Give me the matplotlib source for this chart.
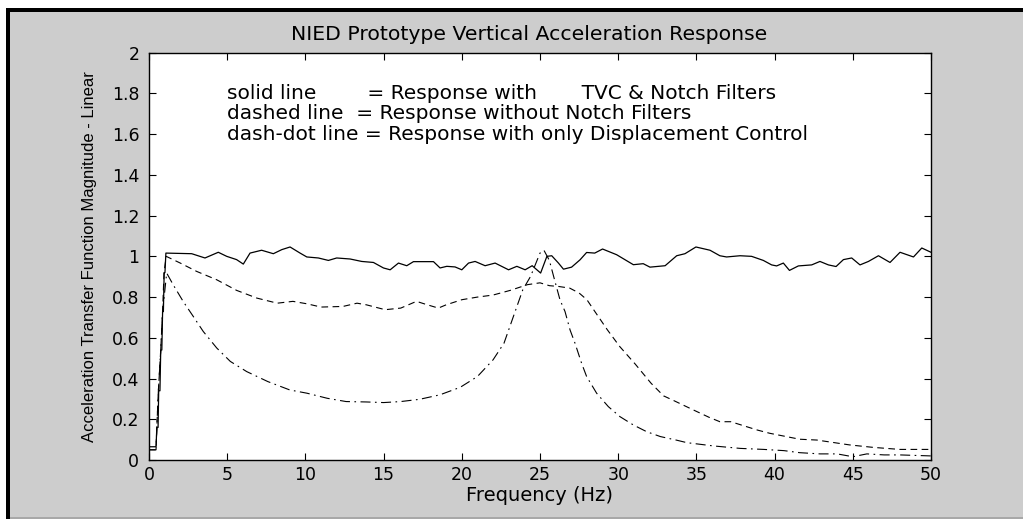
import matplotlib
matplotlib.use('Agg')
import matplotlib.pyplot as plt
from matplotlib.patches import Rectangle

# solid line - response with TVC & notch filters
solid_freq = [0, 0.45, 0.5, 0.58, 0.62, 0.7, 0.75, 0.82, 0.87, 0.92, 0.97, 1.02, 1.08, 2.73, 3.58,
              4.43, 4.97, 5.6, 6.03, 6.46, 7.2, 7.95, 8.49, 9.02, 9.66, 10.09, 10.83, 11.47, 12.0,
              12.86, 13.6, 14.35, 14.99, 15.42, 15.95, 16.48, 16.91, 18.19, 18.61, 19.04, 19.57,
              20.0, 20.43, 20.85, 21.49, 22.13, 22.99, 23.52, 24.05, 24.5, 25.04, 25.44, 25.75,
              26.18, 26.5, 27.02, 27.56, 27.98, 28.5, 29.0, 29.9, 30.97, 31.6, 32.03, 33.0, 33.74,
              34.27, 34.97, 35.87, 36.5, 36.93, 37.79, 38.53, 39.28, 39.81, 40.13, 40.56, 40.95,
              41.52, 42.37, 42.9, 43.44, 43.93, 44.4, 44.93, 45.46, 46.0, 46.64, 47.38, 48.02,
              48.88, 49.41, 50.0]
solid_mag = [0.065, 0.065, 0.16, 0.16, 0.34, 0.34, 0.54, 0.54, 0.73, 0.73, 0.92, 0.92, 1.016, 1.013,
             0.992, 1.02, 1.0, 0.984, 0.962, 1.016, 1.03, 1.013, 1.033, 1.046, 1.016, 0.997, 0.992,
             0.98, 0.992, 0.987, 0.975, 0.97, 0.943, 0.934, 0.967, 0.954, 0.974, 0.974, 0.943,
             0.951, 0.948, 0.934, 0.967, 0.975, 0.954, 0.967, 0.934, 0.951, 0.934, 0.954, 0.918,
             1.0, 1.003, 0.967, 0.937, 0.947, 0.983, 1.019, 1.016, 1.036, 1.008, 0.959, 0.964,
             0.947, 0.954, 1.003, 1.013, 1.046, 1.03, 1.003, 0.997, 1.003, 1.0, 0.98, 0.958, 0.953,
             0.967, 0.931, 0.953, 0.958, 0.975, 0.958, 0.95, 0.984, 0.992, 0.958, 0.975, 1.003,
             0.97, 1.02, 0.997, 1.041, 1.02]

# dashed line - response without notch filters
dashed_freq = [0, 0.45, 0.5, 0.6, 0.75, 0.87, 0.96, 1.1, 2.0, 3.05, 4.33, 5.6, 6.9, 8.2, 9.2, 10.1,
               11.0, 12.4, 13.3, 13.9, 15.1, 16.1, 17.1, 17.8, 18.5, 19.0, 20.0, 21.0, 22.0, 23.1,
               24.2, 25.0, 25.6, 26.2, 26.9, 27.5, 28.0, 28.5, 29.3, 30.1, 31.1, 32.1, 32.9, 33.6,
               34.8, 35.8, 36.5, 37.2, 38.9, 39.7, 41.6, 42.7, 44.8, 46.3, 48.0, 50.0]
dashed_mag = [0.05, 0.05, 0.16, 0.34, 0.54, 0.73, 0.92, 1.0, 0.967, 0.926, 0.885, 0.833, 0.795, 0.77,
              0.779, 0.767, 0.751, 0.754, 0.77, 0.762, 0.738, 0.746, 0.779, 0.762, 0.746, 0.762,
              0.787, 0.8, 0.81, 0.833, 0.861, 0.87, 0.856, 0.852, 0.844, 0.82, 0.787, 0.73, 0.64,
              0.557, 0.47, 0.377, 0.315, 0.29, 0.246, 0.21, 0.188, 0.188, 0.147, 0.131, 0.102,
              0.098, 0.074, 0.062, 0.052, 0.052]

# dash-dot line - response with only displacement control
dashdot_freq = [0, 0.45, 0.5, 0.6, 0.75, 0.87, 1.13, 1.55, 2.19, 2.83, 3.47, 4.33, 5.2, 6.25, 7.6,
                9.0, 10.1, 11.4, 12.6, 13.9, 15.0, 16.1, 17.3, 18.6, 19.9, 21.0, 22.0, 22.7, 23.3,
                23.9, 24.4, 25.0, 25.25, 25.6, 25.96, 26.28, 26.6, 26.92, 27.24, 27.66, 27.98,
                28.62, 29.37, 30.11, 30.97, 31.82, 32.7, 33.7, 34.4, 36.1, 37.8, 39.3, 40.6, 41.6,
                42.9, 44.0, 45.0, 45.9, 47.0, 48.0, 50.0]
dashdot_mag = [0.05, 0.05, 0.16, 0.34, 0.54, 0.73, 0.918, 0.86, 0.778, 0.705, 0.631, 0.55, 0.484,
               0.434, 0.385, 0.344, 0.328, 0.303, 0.287, 0.285, 0.282, 0.287, 0.298, 0.32, 0.357,
               0.41, 0.492, 0.574, 0.705, 0.836, 0.902, 1.016, 1.03, 0.98, 0.876, 0.786, 0.729,
               0.639, 0.573, 0.475, 0.41, 0.328, 0.262, 0.213, 0.172, 0.139, 0.115, 0.098, 0.085,
               0.069, 0.057, 0.052, 0.046, 0.036, 0.03, 0.03, 0.016, 0.03, 0.025, 0.025, 0.02]

xticks = [0, 5, 10, 15, 20, 25, 30, 35, 40, 45, 50]
yticks = [0, 0.2, 0.4, 0.6, 0.8, 1.0, 1.2, 1.4, 1.6, 1.8, 2.0]
ytick_labels = ['0', '0.2', '0.4', '0.6', '0.8', '1', '1.2', '1.4', '1.6', '1.8', '2']

notes = ['solid line        = Response with       TVC & Notch Filters',
         'dashed line  = Response without Notch Filters',
         'dash-dot line = Response with only Displacement Control']

W, H = 1023, 519
fig = plt.figure(figsize=(W / 100, H / 100), dpi=100, facecolor='#cdcdcd')

# screenshot frame: white margin + black line at top and left, darker line at bottom
fig.add_artist(Rectangle((0, 1 - 8 / H), 1, 8 / H, transform=fig.transFigure, color='white', lw=0))
fig.add_artist(Rectangle((0, 1 - 12 / H), 1, 4 / H, transform=fig.transFigure, color='black', lw=0))
fig.add_artist(Rectangle((0, 0), 6 / W, 1, transform=fig.transFigure, color='white', lw=0))
fig.add_artist(Rectangle((6 / W, 0), 4 / W, 1 - 8 / H, transform=fig.transFigure, color='black', lw=0))
fig.add_artist(Rectangle((10 / W, 0), 1, 2 / H, transform=fig.transFigure, color='#a8a8a8', lw=0))

ax = fig.add_axes([149 / W, 59 / H, 782 / W, 407.3 / H])
ax.set_facecolor('white')

ax.plot(solid_freq, solid_mag, color='black', lw=0.9)
ax.plot(dashed_freq, dashed_mag, color='black', lw=0.8, linestyle=(0, (6, 4)))
ax.plot(dashdot_freq, dashdot_mag, color='black', lw=0.8, linestyle=(0, (9, 4, 1.5, 4)))

ax.set_xlim(0, 50)
ax.set_ylim(0, 2)
ax.set_xticks(xticks)
ax.set_yticks(yticks)
ax.set_yticklabels(ytick_labels)
ax.tick_params(direction='in', top=True, right=True, length=5, width=0.8, labelsize=12.5)
ax.tick_params(axis='x', pad=4)
ax.tick_params(axis='y', pad=7)
for s in ax.spines.values():
    s.set_linewidth(1.0)

for i, t in enumerate(notes):
    ax.text(5, 1.8 - 0.1 * i, t, fontsize=14.5, va='center', ha='left')

ax.set_title('NIED Prototype Vertical Acceleration Response', fontsize=14.7, pad=9, x=0.486)
ax.set_xlabel('Frequency (Hz)', fontsize=14, labelpad=2)
ax.set_ylabel('Acceleration Transfer Function Magnitude - Linear',
              fontsize=12, family='Liberation Sans')
ax.yaxis.set_label_coords(-0.066, 0.5)

fig.savefig('out.png', dpi=100, facecolor=fig.get_facecolor())
